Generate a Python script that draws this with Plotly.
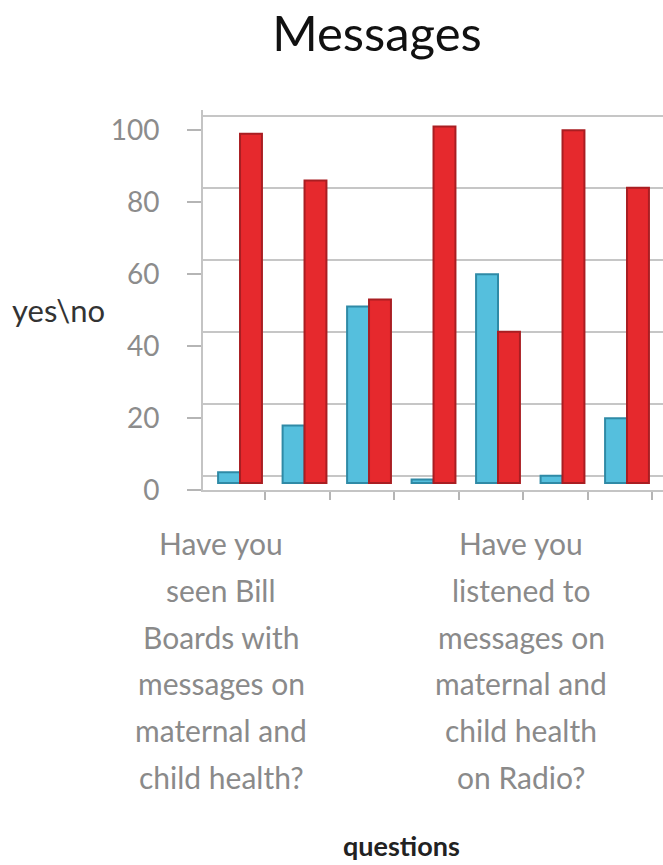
import plotly.graph_objects as go

# Survey answers per question (percent of respondents)
question_index = [0, 1, 2, 3, 4, 5, 6]
yes_pct = [3, 16, 49, 1, 58, 2, 18]
no_pct = [97, 84, 51, 99, 42, 98, 82]
y_ticks = [0, 20, 40, 60, 80, 100]

# Only two question texts fit under the axis
label_positions = [-0.29, 4.36]
label_lines = [
    ["Have you", "seen Bill", "Boards with", "messages on", "maternal and", "child health?"],
    ["Have you", "listened to", "messages on", "maternal and", "child health", "on Radio?"],
]

FONT = "Lato"
TOP, BOTTOM = 110, 490           # plot area in page pixels
PX_PER_UNIT = 3.6
SPAN = (BOTTOM - TOP) / PX_PER_UNIT


def shifted_range(lift_px):
    lo = -lift_px / PX_PER_UNIT
    return [lo, lo + SPAN]


fig = go.Figure()
fig.add_trace(go.Bar(
    x=question_index, y=yes_pct, name="yes",
    marker=dict(color="#55BFDD", line=dict(color="#2F8AA6", width=2)),
))
fig.add_trace(go.Bar(
    x=question_index, y=no_pct, name="no",
    marker=dict(color="#E6292D", line=dict(color="#A91E22", width=2)),
))
# invisible companions so the overlaid scale and grid axes get drawn
for axis_name in ("y2", "y3"):
    fig.add_trace(go.Scatter(
        x=question_index, y=no_pct, yaxis=axis_name, mode="markers",
        marker=dict(opacity=0), hoverinfo="skip", showlegend=False,
    ))

# question text, one annotation per line
LINE_PITCH = 46.8
FIRST_LINE_PX = 543
for pos, lines in zip(label_positions, label_lines):
    for k, line in enumerate(lines):
        py = FIRST_LINE_PX + k * LINE_PITCH
        fig.add_annotation(
            x=pos, xref="x", y=(BOTTOM - py) / (BOTTOM - TOP), yref="paper",
            text=line, showarrow=False, xanchor="center", yanchor="middle",
            font=dict(family=FONT, size=30, color="#8a8a8a"),
        )

fig.add_annotation(
    x=(10 - 203) / 460, xref="paper", y=(BOTTOM - 310) / (BOTTOM - TOP), yref="paper",
    text="yes\\no", showarrow=False, xanchor="left", yanchor="middle",
    font=dict(family=FONT, size=31, color="#333333"),
)
fig.add_annotation(
    x=(401 - 203) / 460, xref="paper", y=(BOTTOM - 845) / (BOTTOM - TOP), yref="paper",
    text="<b>questions</b>", showarrow=False, xanchor="center", yanchor="middle",
    font=dict(family=FONT, size=27, color="#222222"),
)

fig.update_layout(
    width=663, height=865,
    margin=dict(l=203, r=0, t=TOP, b=865 - BOTTOM),
    paper_bgcolor="white", plot_bgcolor="white",
    showlegend=False,
    barmode="group", bargap=0.32, bargroupgap=0,
    title=dict(
        text="Messages", x=377 / 663, xanchor="center", xref="container",
        y=1 - 34 / 865, yanchor="middle",
        font=dict(family=FONT, size=49, color="#111111"),
    ),
    xaxis=dict(
        range=[-0.574, 6.558], tickmode="array",
        tickvals=[i + 0.39 for i in question_index], showticklabels=False,
        ticks="outside", ticklen=8, tickcolor="#b5b5b5", tickwidth=2,
        showline=True, linecolor="#c4c4c4", linewidth=2,
        showgrid=False, zeroline=False,
    ),
    # bars sit a little above the floor edge
    yaxis=dict(
        range=shifted_range(7), showgrid=False, zeroline=False,
        showticklabels=False, showline=False,
    ),
    # tick labels and marks along the front edge
    yaxis2=dict(
        range=shifted_range(0), overlaying="y", side="left", anchor="x",
        tickmode="array", tickvals=y_ticks, ticks="outside", ticklen=14,
        tickcolor="#b5b5b5", tickwidth=2, ticklabelstandoff=22,
        tickfont=dict(family=FONT, size=28, color="#8c8c8c"),
        showline=True, linecolor="#c4c4c4", linewidth=2,
        showgrid=False, zeroline=False,
    ),
    # gridlines on the back wall
    yaxis3=dict(
        range=shifted_range(14), overlaying="y", side="left", anchor="x",
        tickmode="array", tickvals=y_ticks, showticklabels=False, ticks="",
        showgrid=True, gridcolor="#c6c6c6", gridwidth=2,
        showline=False, zeroline=False,
    ),
)

fig.write_html("out.html")
